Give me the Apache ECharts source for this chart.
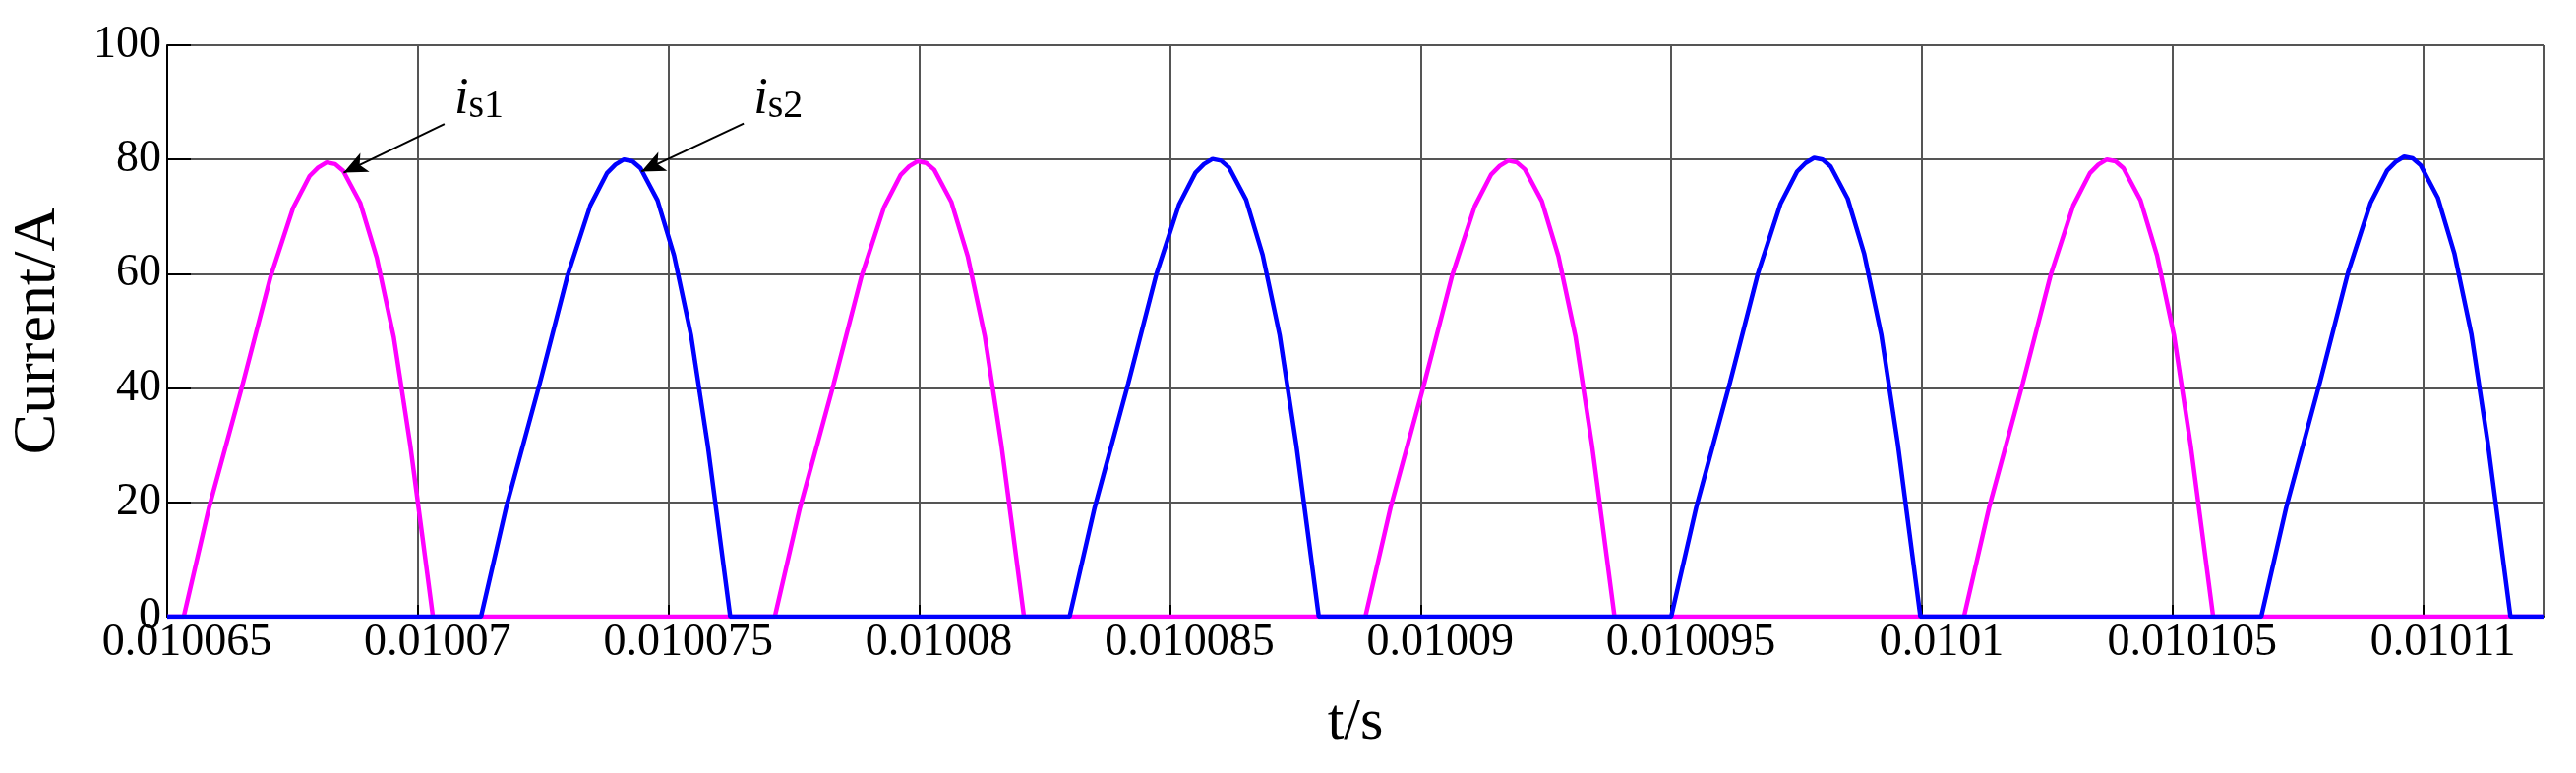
<!DOCTYPE html>
<html><head><meta charset="utf-8">
<script src="https://cdn.jsdelivr.net/npm/echarts@6/dist/echarts.min.js"></script>
<style>html,body{margin:0;padding:0;background:#fff}#c{width:2619px;height:786px}</style>
</head><body><div id="c"></div>
<script>
// time axis in microseconds after 0.010065 s
const xMin = 0, xMax = 47.4
const xTicks = [0, 5, 10, 15, 20, 25, 30, 35, 40, 45]
const yTicks = [0, 20, 40, 60, 80, 100]
// one pulse: offset (us) and current (A)
const shapeT = [0, 0.50, 1.17, 1.73, 2.18, 2.51, 2.68, 2.85, 3.02, 3.18, 3.52, 3.85, 4.19, 4.52, 4.75, 4.97]
const shapeI = [0, 19, 40.6, 59.6, 71.7, 77.3, 78.8, 79.7, 79.4, 78.2, 72.6, 63, 49, 30, 14.7, 0]
// pulse starts (us) and peaks (A)
const is1Start = [0.33, 12.12, 23.9, 35.84]
const is1Peak = [79.5, 79.7, 79.8, 80.0]
const is2Start = [6.26, 18.0, 30.0, 41.77]
const is2Peak = [80.0, 80.1, 80.3, 80.5]

function build(starts, peaks) {
    const d = [[xMin, 0]]
    starts.forEach((s, k) => {
        shapeT.forEach((t, j) => d.push([s + t, shapeI[j] * peaks[k] / 79.7]))
    })
    d.push([xMax, 0])
    return d
}

const font = 'Liberation Serif'
const chart = echarts.init(document.getElementById('c'))
chart.setOption({
    animation: false,
    grid: {left: 154, right: 33, top: 46, bottom: 159},
    xAxis: {
        type: 'value', min: xMin, max: xMax, interval: 5,
        name: 't/s', nameLocation: 'middle', nameGap: 78,
        nameTextStyle: {fontFamily: font, fontSize: 60, color: '#000'},
        axisLine: {lineStyle: {color: '#000', width: 2}},
        axisTick: {inside: true, length: 12, lineStyle: {color: '#000', width: 2}},
        axisLabel: {
            fontFamily: font, fontSize: 46, color: '#000', margin: 4, padding: [0, 0, 0, 40],
            formatter: v => parseFloat(((10065 + v) / 1e6).toFixed(7)).toString()
        },
        splitLine: {show: true, lineStyle: {color: '#555', width: 2}}
    },
    yAxis: {
        type: 'value', min: 0, max: 100, interval: 20,
        name: 'Current/A', nameLocation: 'middle', nameGap: 100,
        nameTextStyle: {fontFamily: font, fontSize: 62, color: '#000'},
        axisLine: {show: true, lineStyle: {color: '#000', width: 2}},
        axisTick: {show: true, inside: true, length: 24, lineStyle: {color: '#000', width: 2}},
        axisLabel: {fontFamily: font, fontSize: 46, color: '#000', margin: 6},
        splitLine: {show: true, lineStyle: {color: '#555', width: 2}}
    },
    series: [
        {type: 'line', name: 'is1', data: build(is1Start, is1Peak), showSymbol: false, z: 2,
         lineStyle: {color: '#ff00ff', width: 4.5},
         markLine: {silent: true, symbol: ['none', 'arrow'], symbolSize: [16, 24],
            lineStyle: {color: '#000', width: 2, type: 'solid'}, label: {show: false},
            data: [[{coord: [5.53, 86.2]}, {coord: [3.52, 77.7]}]]}},
        {type: 'line', name: 'is2', data: build(is2Start, is2Peak), showSymbol: false, z: 3,
         lineStyle: {color: '#0000ff', width: 4.5},
         markLine: {silent: true, symbol: ['none', 'arrow'], symbolSize: [16, 24],
            lineStyle: {color: '#000', width: 2, type: 'solid'}, label: {show: false},
            data: [[{coord: [11.5, 86.3]}, {coord: [9.46, 77.9]}]]}}
    ]
})
const p1 = chart.convertToPixel({gridIndex: 0}, [5.73, 95])
const p2 = chart.convertToPixel({gridIndex: 0}, [11.7, 95])
function lab(p, n) {
    return {type: 'text', left: p[0], top: p[1], z: 10, style: {
        text: '{i|i}{s|s' + n + '}', fill: '#000',
        rich: {i: {fontFamily: font, fontStyle: 'italic', fontSize: 52},
               s: {fontFamily: font, fontSize: 40, verticalAlign: 'bottom', padding: [14, 0, 0, 0]}}}}
}
chart.setOption({graphic: [lab(p1, 1), lab(p2, 2)]})
</script></body></html>
